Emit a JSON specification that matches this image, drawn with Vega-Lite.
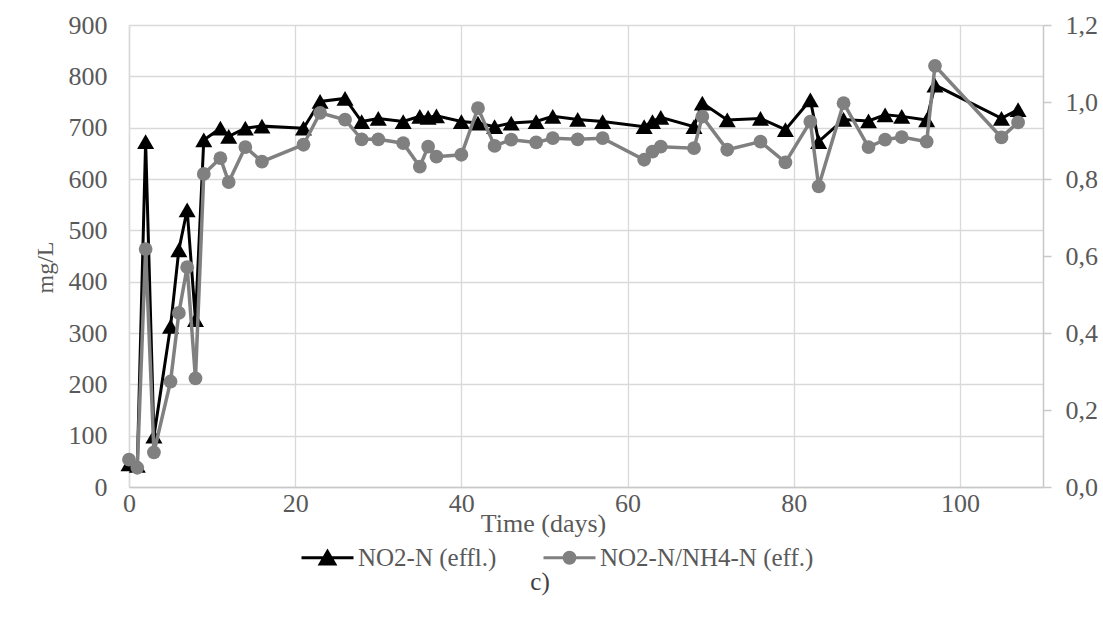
{
  "$schema": "https://vega.github.io/schema/vega-lite/v6.json",
  "width": 914,
  "height": 462,
  "autosize": "none",
  "padding": {"left": 129, "top": 25, "right": 60, "bottom": 130},
  "background": "white",
  "config": {
    "view": {"stroke": null},
    "font": "Liberation Serif",
    "axis": {"labelFont": "Liberation Serif", "titleFont": "Liberation Serif", "labelColor": "#595959", "titleColor": "#595959", "gridColor": "#d9d9d9", "gridWidth": 1.3, "domainColor": "#c8c8c8", "domainWidth": 1.5, "tickColor": "#c8c8c8", "labelFontSize": 26, "titleFontSize": 25, "titleFontWeight": "normal"}
  },
  "title": {"text": "c)", "orient": "bottom", "anchor": "middle", "font": "Liberation Serif", "fontSize": 25, "fontWeight": "normal", "color": "#404040", "dx": -46, "offset": -1},
  "datasets": {
    "no2": [
      {"day": 0, "value": 45, "series": "NO2-N (effl.)"},
      {"day": 1, "value": 42, "series": "NO2-N (effl.)"},
      {"day": 2, "value": 673, "series": "NO2-N (effl.)"},
      {"day": 3, "value": 99, "series": "NO2-N (effl.)"},
      {"day": 5, "value": 313, "series": "NO2-N (effl.)"},
      {"day": 6, "value": 462, "series": "NO2-N (effl.)"},
      {"day": 7, "value": 540, "series": "NO2-N (effl.)"},
      {"day": 8, "value": 326, "series": "NO2-N (effl.)"},
      {"day": 9, "value": 676, "series": "NO2-N (effl.)"},
      {"day": 11, "value": 699, "series": "NO2-N (effl.)"},
      {"day": 12, "value": 683, "series": "NO2-N (effl.)"},
      {"day": 14, "value": 699, "series": "NO2-N (effl.)"},
      {"day": 16, "value": 703, "series": "NO2-N (effl.)"},
      {"day": 21, "value": 699, "series": "NO2-N (effl.)"},
      {"day": 23, "value": 751, "series": "NO2-N (effl.)"},
      {"day": 26, "value": 757, "series": "NO2-N (effl.)"},
      {"day": 28, "value": 712, "series": "NO2-N (effl.)"},
      {"day": 30, "value": 718, "series": "NO2-N (effl.)"},
      {"day": 33, "value": 712, "series": "NO2-N (effl.)"},
      {"day": 35, "value": 722, "series": "NO2-N (effl.)"},
      {"day": 36, "value": 720, "series": "NO2-N (effl.)"},
      {"day": 37, "value": 723, "series": "NO2-N (effl.)"},
      {"day": 40, "value": 712, "series": "NO2-N (effl.)"},
      {"day": 42, "value": 709, "series": "NO2-N (effl.)"},
      {"day": 44, "value": 702, "series": "NO2-N (effl.)"},
      {"day": 46, "value": 709, "series": "NO2-N (effl.)"},
      {"day": 49, "value": 712, "series": "NO2-N (effl.)"},
      {"day": 51, "value": 722, "series": "NO2-N (effl.)"},
      {"day": 54, "value": 716, "series": "NO2-N (effl.)"},
      {"day": 57, "value": 712, "series": "NO2-N (effl.)"},
      {"day": 62, "value": 702, "series": "NO2-N (effl.)"},
      {"day": 63, "value": 712, "series": "NO2-N (effl.)"},
      {"day": 64, "value": 720, "series": "NO2-N (effl.)"},
      {"day": 68, "value": 702, "series": "NO2-N (effl.)"},
      {"day": 69, "value": 748, "series": "NO2-N (effl.)"},
      {"day": 72, "value": 715, "series": "NO2-N (effl.)"},
      {"day": 76, "value": 718, "series": "NO2-N (effl.)"},
      {"day": 79, "value": 696, "series": "NO2-N (effl.)"},
      {"day": 82, "value": 754, "series": "NO2-N (effl.)"},
      {"day": 83, "value": 673, "series": "NO2-N (effl.)"},
      {"day": 86, "value": 716, "series": "NO2-N (effl.)"},
      {"day": 89, "value": 713, "series": "NO2-N (effl.)"},
      {"day": 91, "value": 725, "series": "NO2-N (effl.)"},
      {"day": 93, "value": 722, "series": "NO2-N (effl.)"},
      {"day": 96, "value": 715, "series": "NO2-N (effl.)"},
      {"day": 97, "value": 783, "series": "NO2-N (effl.)"},
      {"day": 105, "value": 718, "series": "NO2-N (effl.)"},
      {"day": 107, "value": 735, "series": "NO2-N (effl.)"}
    ],
    "ratio": [
      {"day": 0, "value": 0.071, "series": "NO2-N/NH4-N (eff.)"},
      {"day": 1, "value": 0.05, "series": "NO2-N/NH4-N (eff.)"},
      {"day": 2, "value": 0.618, "series": "NO2-N/NH4-N (eff.)"},
      {"day": 3, "value": 0.09, "series": "NO2-N/NH4-N (eff.)"},
      {"day": 5, "value": 0.274, "series": "NO2-N/NH4-N (eff.)"},
      {"day": 6, "value": 0.452, "series": "NO2-N/NH4-N (eff.)"},
      {"day": 7, "value": 0.571, "series": "NO2-N/NH4-N (eff.)"},
      {"day": 8, "value": 0.282, "series": "NO2-N/NH4-N (eff.)"},
      {"day": 9, "value": 0.813, "series": "NO2-N/NH4-N (eff.)"},
      {"day": 11, "value": 0.854, "series": "NO2-N/NH4-N (eff.)"},
      {"day": 12, "value": 0.792, "series": "NO2-N/NH4-N (eff.)"},
      {"day": 14, "value": 0.883, "series": "NO2-N/NH4-N (eff.)"},
      {"day": 16, "value": 0.845, "series": "NO2-N/NH4-N (eff.)"},
      {"day": 21, "value": 0.889, "series": "NO2-N/NH4-N (eff.)"},
      {"day": 23, "value": 0.972, "series": "NO2-N/NH4-N (eff.)"},
      {"day": 26, "value": 0.954, "series": "NO2-N/NH4-N (eff.)"},
      {"day": 28, "value": 0.903, "series": "NO2-N/NH4-N (eff.)"},
      {"day": 30, "value": 0.903, "series": "NO2-N/NH4-N (eff.)"},
      {"day": 33, "value": 0.893, "series": "NO2-N/NH4-N (eff.)"},
      {"day": 35, "value": 0.832, "series": "NO2-N/NH4-N (eff.)"},
      {"day": 36, "value": 0.884, "series": "NO2-N/NH4-N (eff.)"},
      {"day": 37, "value": 0.858, "series": "NO2-N/NH4-N (eff.)"},
      {"day": 40, "value": 0.863, "series": "NO2-N/NH4-N (eff.)"},
      {"day": 42, "value": 0.984, "series": "NO2-N/NH4-N (eff.)"},
      {"day": 44, "value": 0.886, "series": "NO2-N/NH4-N (eff.)"},
      {"day": 46, "value": 0.902, "series": "NO2-N/NH4-N (eff.)"},
      {"day": 49, "value": 0.895, "series": "NO2-N/NH4-N (eff.)"},
      {"day": 51, "value": 0.906, "series": "NO2-N/NH4-N (eff.)"},
      {"day": 54, "value": 0.903, "series": "NO2-N/NH4-N (eff.)"},
      {"day": 57, "value": 0.906, "series": "NO2-N/NH4-N (eff.)"},
      {"day": 62, "value": 0.85, "series": "NO2-N/NH4-N (eff.)"},
      {"day": 63, "value": 0.871, "series": "NO2-N/NH4-N (eff.)"},
      {"day": 64, "value": 0.884, "series": "NO2-N/NH4-N (eff.)"},
      {"day": 68, "value": 0.88, "series": "NO2-N/NH4-N (eff.)"},
      {"day": 69, "value": 0.962, "series": "NO2-N/NH4-N (eff.)"},
      {"day": 72, "value": 0.876, "series": "NO2-N/NH4-N (eff.)"},
      {"day": 76, "value": 0.897, "series": "NO2-N/NH4-N (eff.)"},
      {"day": 79, "value": 0.843, "series": "NO2-N/NH4-N (eff.)"},
      {"day": 82, "value": 0.949, "series": "NO2-N/NH4-N (eff.)"},
      {"day": 83, "value": 0.781, "series": "NO2-N/NH4-N (eff.)"},
      {"day": 86, "value": 0.997, "series": "NO2-N/NH4-N (eff.)"},
      {"day": 89, "value": 0.883, "series": "NO2-N/NH4-N (eff.)"},
      {"day": 91, "value": 0.902, "series": "NO2-N/NH4-N (eff.)"},
      {"day": 93, "value": 0.909, "series": "NO2-N/NH4-N (eff.)"},
      {"day": 96, "value": 0.897, "series": "NO2-N/NH4-N (eff.)"},
      {"day": 97, "value": 1.094, "series": "NO2-N/NH4-N (eff.)"},
      {"day": 105, "value": 0.908, "series": "NO2-N/NH4-N (eff.)"},
      {"day": 107, "value": 0.947, "series": "NO2-N/NH4-N (eff.)"}
    ]
  },
  "encoding": {
    "x": {"field": "day", "type": "quantitative", "scale": {"domain": [0, 110], "nice": false},
      "axis": {"values": [0, 20, 40, 60, 80, 100], "title": "Time (days)", "ticks": false, "labelPadding": 3, "grid": true, "titleX": 414, "titleY": 36, "titleBaseline": "middle", "titleAlign": "center", "titleFontSize": 26, "labelFlush": false}}
  },
  "layer": [
    {
      "data": {"name": "no2"},
      "mark": {"type": "line", "strokeWidth": 3, "point": {"shape": "triangle-up", "size": 290, "filled": true, "opacity": 1}},
      "encoding": {
        "y": {"field": "value", "type": "quantitative", "scale": {"domain": [0, 900], "nice": false},
          "axis": {"orient": "left", "values": [0, 100, 200, 300, 400, 500, 600, 700, 800, 900], "title": "mg/L", "ticks": false, "labelPadding": 22, "grid": true, "domainColor": "#d9d9d9", "titleX": -84, "titleY": 242, "titleAngle": -90, "titleBaseline": "middle", "titleAlign": "center", "titleFontSize": 24}},
        "color": {"field": "series", "type": "nominal",
          "scale": {"domain": ["NO2-N (effl.)", "NO2-N/NH4-N (eff.)"], "range": ["#000000", "#808080"]},
          "legend": {"title": null, "orient": "none", "direction": "horizontal", "legendX": 171, "legendY": 505, "symbolSize": 2704, "symbolStrokeWidth": 3, "labelOffset": 3, "columnPadding": 40, "labelFontSize": 25, "labelLimit": 500, "labelFont": "Liberation Serif", "labelColor": "#595959", "symbolOpacity": 1,
            "encode": {"symbols": {"update": {
              "shape": {"signal": "datum.value === 'NO2-N (effl.)' ? 'M-1,0H1M0,-0.24L0.28,0.24L-0.28,0.24Z' : 'M-1,0H1M-0.21,0A0.21,0.21 0 1,0 0.21,0A0.21,0.21 0 1,0 -0.21,0'"},
              "fill": {"signal": "datum.value === 'NO2-N (effl.)' ? '#000000' : '#808080'"},
              "stroke": {"signal": "datum.value === 'NO2-N (effl.)' ? '#000000' : '#808080'"},
              "strokeWidth": {"value": 3},
              "opacity": {"value": 1}
            }}}}
        }
      }
    },
    {
      "data": {"name": "ratio"},
      "mark": {"type": "line", "strokeWidth": 3.5, "point": {"shape": "circle", "size": 190, "filled": true, "opacity": 1}},
      "encoding": {
        "y": {"field": "value", "type": "quantitative", "scale": {"domain": [0, 1.2], "nice": false},
          "axis": {"orient": "right", "values": [0, 0.2, 0.4, 0.6, 0.8, 1.0, 1.2], "title": null, "ticks": true, "tickSize": 8, "tickWidth": 1.5, "labelPadding": 14, "grid": false, "labelExpr": "replace(format(datum.value, '.1f'), '.', ',')"}},
        "color": {"field": "series", "type": "nominal",
          "scale": {"domain": ["NO2-N (effl.)", "NO2-N/NH4-N (eff.)"], "range": ["#000000", "#808080"]},
          "legend": {"title": null, "orient": "none", "direction": "horizontal", "legendX": 171, "legendY": 505, "symbolSize": 2704, "symbolStrokeWidth": 3, "labelOffset": 3, "columnPadding": 40, "labelFontSize": 25, "labelLimit": 500, "labelFont": "Liberation Serif", "labelColor": "#595959", "symbolOpacity": 1,
            "encode": {"symbols": {"update": {
              "shape": {"signal": "datum.value === 'NO2-N (effl.)' ? 'M-1,0H1M0,-0.24L0.28,0.24L-0.28,0.24Z' : 'M-1,0H1M-0.21,0A0.21,0.21 0 1,0 0.21,0A0.21,0.21 0 1,0 -0.21,0'"},
              "fill": {"signal": "datum.value === 'NO2-N (effl.)' ? '#000000' : '#808080'"},
              "stroke": {"signal": "datum.value === 'NO2-N (effl.)' ? '#000000' : '#808080'"},
              "strokeWidth": {"value": 3},
              "opacity": {"value": 1}
            }}}}
        }
      }
    }
  ],
  "resolve": {"scale": {"y": "independent"}, "axis": {"y": "independent"}}
}
